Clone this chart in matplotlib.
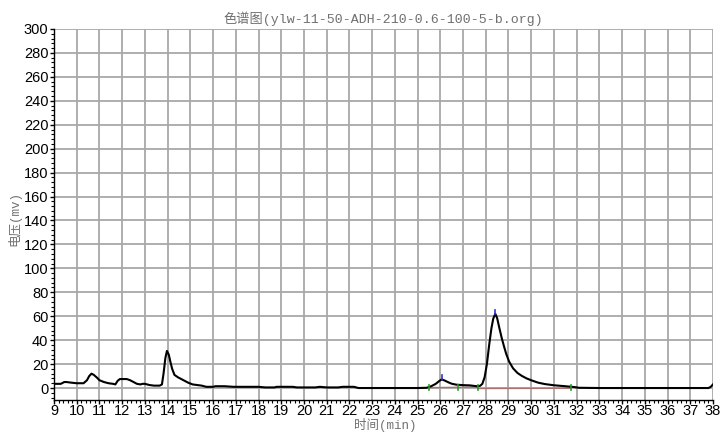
import matplotlib
matplotlib.use("Agg")
import matplotlib.pyplot as plt
from matplotlib.ticker import MultipleLocator

# chromatogram trace (time in min, signal in mV)
time = [9.0, 9.3, 9.45, 9.55, 9.75, 10.0, 10.3, 10.45, 10.55, 10.65, 10.75, 10.9, 11.0, 11.2, 11.4, 11.6,
        11.7, 11.8, 11.9, 12.0, 12.2, 12.35, 12.5, 12.65, 12.8, 12.9, 13.0, 13.2, 13.4, 13.65, 13.75,
        13.82, 13.9, 13.97, 14.05, 14.12, 14.2, 14.3, 14.45, 14.6, 14.75, 14.9, 15.1, 15.3, 15.5, 15.7,
        16.0, 16.1, 16.5, 16.9, 17.0, 17.5, 18.0, 18.3, 18.7, 18.8, 19.0, 19.5, 19.7, 20.5, 20.7,
        21.0, 21.5, 21.7, 22.2, 22.4, 23.0, 24.0, 25.0, 25.4, 25.6, 25.8, 25.95, 26.06, 26.2, 26.35,
        26.5, 26.7, 27.0, 27.3, 27.6, 27.75, 27.85, 27.95, 28.05, 28.15, 28.25, 28.33, 28.42, 28.5,
        28.6, 28.7, 28.8, 28.9, 29.03, 29.2, 29.4, 29.6, 29.8, 30.0, 30.3, 30.6, 31.0, 31.5, 31.9,
        32.1, 33.0, 34.0, 35.0, 36.0, 37.0, 37.8, 37.9, 38.0]
signal = [3.5, 3.5, 5.0, 5.0, 4.5, 4.0, 4.0, 6.5, 10.0, 12.0, 11.0, 8.5, 6.5, 5.0, 4.0, 3.5,
          3.0, 6.0, 7.5, 7.5, 7.5, 6.5, 5.0, 3.5, 3.0, 3.5, 3.5, 2.5, 2.0, 2.0, 3.0,
          12.0, 25.0, 31.0, 28.0, 22.0, 16.0, 11.0, 9.0, 7.5, 6.0, 4.5, 3.0, 2.5, 2.0, 1.0,
          1.0, 1.5, 1.5, 1.0, 1.0, 1.0, 1.0, 0.5, 0.5, 1.0, 1.0, 1.0, 0.5, 0.5, 1.0,
          0.5, 0.5, 1.0, 1.0, 0.0, 0.0, 0.0, 0.0, 0.2, 1.5, 3.5, 5.8, 7.2, 6.2, 4.8,
          3.6, 2.8, 2.4, 2.2, 1.5, 1.8, 3.5, 9.0, 20.0, 36.0, 50.0, 58.0, 62.0, 58.5,
          50.0, 42.0, 35.0, 28.5, 22.0, 16.5, 12.5, 10.0, 8.0, 6.5, 4.5, 3.3, 2.3, 1.5, 0.8,
          0.2, 0.0, 0.0, 0.0, 0.0, 0.0, 0.0, 1.0, 3.0]

# integration baselines (start/end time, start/end level)
base_t = [[25.5, 27.65], [27.65, 31.75]]
base_v = [[0.3, 0.8], [-0.4, -0.2]]
# integration event markers (green) and apex markers (blue)
event_t = [25.5, 26.8, 27.65, 31.75]
apex_t = [26.06, 28.42]
apex_v = [7.2, 62.0]

fig = plt.figure(figsize=(7.21, 4.32), dpi=100)
ax = fig.add_axes([0.0749, 0.0741, 0.9140, 0.8588])

ax.set_xlim(9, 38)
ax.set_ylim(-10, 300)
ax.xaxis.set_major_locator(MultipleLocator(1))
ax.xaxis.set_minor_locator(MultipleLocator(0.2))
ax.yaxis.set_major_locator(MultipleLocator(20))
ax.yaxis.set_minor_locator(MultipleLocator(4))
ax.grid(True, which="major", color="#a8a8a8", linewidth=1.3)
ax.set_axisbelow(True)

for s in ["top", "right"]:
    ax.spines[s].set_visible(False)
for s in ["left", "bottom"]:
    ax.spines[s].set_color("black")
    ax.spines[s].set_linewidth(1.0)

ax.tick_params(axis="both", which="major", length=3, width=1, labelsize=10.5,
               labelfontfamily="Liberation Sans", colors="black")
ax.tick_params(axis="x", which="major", pad=0)
ax.tick_params(axis="y", which="major", pad=1)
ax.tick_params(axis="both", which="minor", length=2, width=0.8)

for (t0, t1), (v0, v1) in zip(base_t, base_v):
    ax.plot([t0, t1], [v0, v1], color="#b07070", linewidth=1.0, zorder=3)

ax.plot(time, signal, color="black", linewidth=1.5, zorder=4)

for t in event_t:
    ax.plot([t, t], [-1.5, 2.5], color="#2a9a2a", linewidth=1.2, zorder=5)
for t, v in zip(apex_t, apex_v):
    ax.plot([t, t], [v, v + 3.5], color="#3030e0", linewidth=1.2, zorder=5)

ax.set_title("色谱图(ylw-11-50-ADH-210-0.6-100-5-b.org)", fontsize=9.5, color="#707070",
             family=["Liberation Mono", "Noto Sans CJK SC"], pad=4)
ax.set_xlabel("时间(min)", fontsize=9, color="#707070",
              family=["Liberation Mono", "Noto Sans CJK SC"])
ax.xaxis.set_label_coords(0.502, -0.048)
ax.set_ylabel("电压(mv)", fontsize=9, color="#707070",
              family=["Liberation Mono", "Noto Sans CJK SC"])
ax.yaxis.set_label_coords(-0.05, 0.49)

fig.savefig("out.png", dpi=100)
